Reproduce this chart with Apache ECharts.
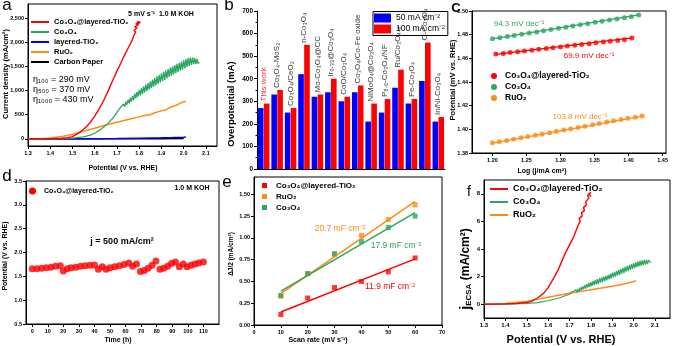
<!DOCTYPE html>
<html>
<head>
<meta charset="utf-8">
<script src="https://cdn.jsdelivr.net/npm/echarts@6/dist/echarts.min.js"></script>
<style>
  html, body { margin: 0; padding: 0; background: #fff; }
  #chart { width: 674px; height: 346px; }
</style>
</head>
<body>
<div id="chart"></div>
<script>
const FONT = '"Liberation Sans", Arial, sans-serif'
const RED = '#ff0000', GREEN = '#2aa862', BLUE = '#0000ff', ORANGE = '#ff8a14', BLACK = '#000000'

// ---- panel a : LSV curves (V vs RHE, mA/cm2)
const aRed = [[1.30,0],[1.35,1],[1.40,3],[1.45,10],[1.48,22],[1.50,45],[1.52,95],[1.54,160],[1.56,240],[1.58,340],[1.60,470],[1.62,620],[1.64,790],[1.66,990],[1.68,1200],[1.69,1300],[1.70,1410],[1.71,1500],[1.705,1540],[1.72,1600],[1.715,1640],[1.73,1700],[1.725,1730],[1.74,1790],[1.735,1820],[1.75,1880],[1.745,1910],[1.76,1970],[1.752,2000],[1.77,2060],[1.762,2090],[1.775,2140],[1.768,2170],[1.785,2220],[1.776,2250],[1.79,2300],[1.78,2330],[1.795,2360],[1.785,2390],[1.80,2410],[1.79,2430],[1.805,2420],[1.795,2390],[1.80,2380]]
const aGreen = [[1.30,0],[1.40,1],[1.45,4],[1.50,12],[1.55,40],[1.58,75],[1.60,115],[1.62,170],[1.64,240],[1.66,320],[1.68,420],[1.69,480],
  [1.700,550],[1.705,545],[1.710,615],[1.715,590],[1.720,670],[1.725,630],[1.730,720],[1.735,670],[1.740,770],[1.745,708],[1.750,810],[1.755,738],
  [1.760,850],[1.765,770],[1.770,890],[1.775,805],[1.780,935],[1.785,838],[1.790,975],[1.795,873],[1.800,1015],[1.805,903],[1.810,1050],[1.815,933],
  [1.820,1090],[1.825,965],[1.830,1125],[1.835,990],[1.840,1155],[1.845,1023],[1.850,1195],[1.855,1053],[1.860,1230],[1.865,1085],[1.870,1260],[1.875,1110],
  [1.880,1295],[1.885,1140],[1.890,1325],[1.895,1170],[1.900,1360],[1.905,1195],[1.910,1390],[1.915,1225],[1.920,1420],[1.925,1255],[1.930,1450],[1.935,1285],
  [1.940,1480],[1.945,1313],[1.950,1505],[1.955,1338],[1.960,1530],[1.965,1363],[1.970,1555],[1.975,1388],[1.980,1580],[1.985,1413],[1.990,1605],[1.995,1438],
  [2.000,1630],[2.005,1463],[2.010,1655],[2.015,1488],[2.020,1675],[2.025,1513],[2.030,1685],[2.035,1533],[2.040,1690],[2.045,1548],[2.050,1675],[2.055,1553],
  [2.060,1660],[2.065,1560],[2.070,1590]]
const aBlue = [[1.30,0],[1.50,1],[1.60,3],[1.70,7],[1.80,13],[1.90,20],[1.95,25],[2.00,32],[2.01,36]]
const aOrange = [[1.30,0],[1.35,3],[1.40,15],[1.45,45],[1.50,95],[1.55,155],[1.60,220],[1.65,285],[1.70,345],[1.75,400],[1.80,455],[1.83,490],[1.85,500],[1.87,540],[1.90,580],[1.92,600],[1.93,630],[1.95,670],[1.97,700],[1.98,730],[2.00,770],[2.01,775]]
const aBlack = [[1.30,-2],[1.60,-1],[1.80,1],[1.90,3],[2.00,5]]
const aXTicks = [1.3,1.4,1.5,1.6,1.7,1.8,1.9,2.0,2.1]
const aYTicks = [0,500,1000,1500,2000,2500]

// ---- panel b : overpotential comparison
const bCats = ['This work','Co₃O₄-MoS₂','Co₃O₄/CeO₂','n-Co₃O₄','Mo-Co₃O₄@CC','Ir₀.₃₃@Co₃O₄','CoO/Co₃O₄','Co₃O₄/Co-Fe oxide','NiMoO₄@Co₃O₄','P₈.₆-Co₃O₄/NF','Ru/Co₃O₄₋ₓ','Fe-Co₃O₄','O-Co₃O₄','In/Ni-Co₃O₄']
const b50 = [270,330,250,420,320,340,300,340,210,250,360,290,390,210]
const b100 = [290,350,270,550,330,400,320,370,290,310,440,310,560,230]

// ---- panel c : Tafel
const cRedX = [1.205,1.216,1.226,1.237,1.247,1.258,1.268,1.279,1.289,1.300,1.310,1.321,1.331,1.342,1.352,1.363,1.373,1.384,1.394,1.405]
const cRedY = [1.4636,1.4641,1.4649,1.4655,1.4662,1.4668,1.4676,1.4683,1.4689,1.4696,1.4704,1.4710,1.4717,1.4723,1.4731,1.4737,1.4745,1.4751,1.4758,1.4772]
const cGreenX = [1.200,1.211,1.222,1.232,1.243,1.254,1.265,1.275,1.286,1.297,1.308,1.318,1.329,1.340,1.351,1.361,1.372,1.383,1.394,1.404,1.415]
const cGreenY = [1.4766,1.4773,1.4785,1.4793,1.4804,1.4814,1.4823,1.4833,1.4843,1.4854,1.4863,1.4873,1.4884,1.4893,1.4904,1.4913,1.4923,1.4933,1.4943,1.4952,1.4966]
const cOrangeX = [1.200,1.210,1.221,1.231,1.242,1.252,1.263,1.273,1.284,1.294,1.305,1.315,1.326,1.336,1.347,1.357,1.368,1.378,1.389,1.399,1.410,1.420]
const cOrangeY = [1.3886,1.3895,1.3906,1.3917,1.3928,1.3939,1.3950,1.3961,1.3972,1.3983,1.3994,1.4005,1.4016,1.4027,1.4038,1.4050,1.4061,1.4072,1.4083,1.4094,1.4103,1.4112]
const cRedFit = [[1.205,1.4633],[1.405,1.4773]]
const cGreenFit = [[1.200,1.4764],[1.415,1.4967]]
const cOrangeFit = [[1.200,1.3884],[1.420,1.4112]]
const cXTicks = [1.20,1.25,1.30,1.35,1.40,1.45]
const cYTicks = [1.38,1.40,1.42,1.44,1.46,1.48,1.50]

// ---- panel d : stability
const dTime = [0,3,6,9,12,15,18,20,22.5,25,28,31,34,37,40,42.5,45,47.5,50,53,56,59,62,64.5,67,69.5,72,74.5,77,79.5,82,84.5,87,89.5,92,94.5,97,99.5,102,104.5,107,110]
const dPot = [1.66,1.66,1.67,1.68,1.69,1.71,1.72,1.61,1.66,1.68,1.69,1.71,1.72,1.73,1.74,1.65,1.70,1.65,1.68,1.70,1.72,1.75,1.78,1.71,1.76,1.60,1.62,1.67,1.73,1.82,1.65,1.67,1.71,1.77,1.80,1.70,1.76,1.70,1.73,1.76,1.78,1.80]
const dXTicks = [0,10,20,30,40,50,60,70,80,90,100,110]
const dYTicks = [0.5,1.0,1.5,2.0,2.5,3.0,3.5]

// ---- panel e : Cdl
const eRate = [10,20,30,40,50,60]
const eRed = [0.12,0.31,0.43,0.50,0.61,0.77]
const eOrange = [0.33,0.59,0.81,1.03,1.21,1.38]
const eGreen = [0.34,0.59,0.82,0.96,1.12,1.25]
const eRedFit = [[10,0.15],[60,0.76]]
const eOrangeFit = [[10,0.36],[60,1.42]]
const eGreenFit = [[10,0.39],[60,1.29]]
const eXTicks = [0,10,20,30,40,50,60,70]
const eYTicks = [0,0.25,0.5,0.75,1.0,1.25,1.5]

// ---- panel f : ECSA normalised LSV
const fRed = [[1.30,0],[1.40,0.02],[1.45,0.05],[1.50,0.12],[1.52,0.19],[1.55,0.45],[1.58,0.8],[1.60,1.2],[1.63,2.0],[1.65,2.6],[1.68,3.7],[1.70,4.3],[1.72,4.9],[1.73,5.3],[1.74,5.7],[1.735,5.8],[1.75,6.0],[1.745,6.2],[1.76,6.4],[1.755,6.6],[1.77,6.8],[1.765,7.0],[1.78,7.2],[1.775,7.4],[1.79,7.7],[1.785,7.9],[1.80,8.1],[1.79,8.0],[1.80,7.8]]
const fGreen = [[1.30,0],[1.40,0],[1.50,0.05],[1.55,0.12],[1.60,0.25],[1.65,0.45],[1.70,0.72],
  [1.71,0.90],[1.715,0.80],[1.72,0.94],[1.725,0.82],[1.73,1.05],[1.735,0.88],[1.74,1.10],[1.745,0.94],[1.75,1.22],[1.755,1.00],[1.76,1.28],[1.765,1.08],
  [1.77,1.38],[1.775,1.12],[1.78,1.45],[1.785,1.20],[1.79,1.54],[1.795,1.25],[1.80,1.60],[1.805,1.32],[1.81,1.68],[1.815,1.38],[1.82,1.75],[1.825,1.44],
  [1.83,1.82],[1.835,1.48],[1.84,1.88],[1.845,1.56],[1.85,1.94],[1.855,1.60],[1.86,2.00],[1.865,1.68],[1.87,2.06],[1.875,1.72],[1.88,2.13],[1.885,1.80],
  [1.89,2.20],[1.895,1.85],[1.90,2.28],[1.905,1.95],[1.91,2.35],[1.915,2.00],[1.92,2.42],[1.925,2.08],[1.93,2.49],[1.935,2.12],[1.94,2.56],[1.945,2.22],
  [1.95,2.63],[1.955,2.26],[1.96,2.70],[1.965,2.36],[1.97,2.77],[1.975,2.40],[1.98,2.84],[1.985,2.50],[1.99,2.91],[1.995,2.55],[2.00,2.98],[2.005,2.62],
  [2.01,3.04],[2.015,2.68],[2.02,3.10],[2.025,2.74],[2.03,3.15],[2.035,2.78],[2.04,3.18],[2.045,2.84],[2.05,3.22],[2.055,2.86],[2.06,3.22],[2.065,2.90],
  [2.07,3.20],[2.08,3.0]]
const fOrange = [[1.30,0],[1.35,0.01],[1.40,0.05],[1.45,0.12],[1.50,0.22],[1.55,0.35],[1.60,0.5],[1.65,0.65],[1.70,0.8],[1.75,0.92],[1.80,1.05],[1.85,1.18],[1.90,1.3],[1.95,1.45],[2.00,1.65],[2.01,1.7]]
const fXTicks = [1.3,1.4,1.5,1.6,1.7,1.8,1.9,2.0,2.1]
const fYTicks = [0,2,4,6,8]

const NAME_CT = 'Co₃O₄@layered-TiO₂', NAME_CO = 'Co₃O₄', NAME_RU = 'RuO₂'

function zip (xs, ys) { return xs.map((x, i) => [x, ys[i]]) }

function vAxis (gi, min, max, ticks, fmt, size) {
  return {
    type: 'value', gridIndex: gi, min: min, max: max,
    axisLine: { show: true, onZero: false, lineStyle: { color: '#000', width: 1 } },
    axisTick: { show: true, length: 3, customValues: ticks, lineStyle: { color: '#000', width: 1 } },
    axisLabel: { customValues: ticks, formatter: fmt, fontSize: size || 6, fontWeight: 'bold', color: '#000', margin: 4 },
    splitLine: { show: false }
  }
}

function grid (left, top, width, height, frame) {
  return { left: left, top: top, width: width, height: height, containLabel: false, outerBoundsMode: 'none',
    show: frame, borderColor: '#000', borderWidth: 1, backgroundColor: 'transparent' }
}

function line (name, data, color, width, idx) {
  return { name: name, type: 'line', xAxisIndex: idx, yAxisIndex: idx, data: data, symbol: 'none',
    lineStyle: { color: color, width: width }, itemStyle: { color: color } }
}

function dots (name, data, color, symbol, size, idx) {
  return { name: name, type: 'scatter', xAxisIndex: idx, yAxisIndex: idx, data: data, symbol: symbol,
    symbolSize: size, itemStyle: { color: color } }
}

function legItems (names, colors, icon) {
  return names.map((n, i) => ({ name: n, icon: icon, itemStyle: { color: colors[i], borderWidth: 0 } }))
}

function txt (text, x, y, size, o) {
  o = o || {}
  const al = o.align || 'center'
  return {
    type: 'text', x: x, y: y, rotation: o.rot ? Math.PI / 2 : 0, silent: true, z: 100,
    style: {
      text: text, fill: o.color || '#000',
      font: (o.bold ? 'bold ' : '') + size + 'px ' + FONT,
      align: al, verticalAlign: 'middle', textAlign: al, textVerticalAlign: 'middle',
      rich: o.rich
    }
  }
}

const f2 = v => v.toFixed(2)
const f1 = v => v.toFixed(1)

let myChart = echarts.init(document.getElementById('chart'))

let option = {
  animation: false,
  backgroundColor: '#fff',
  textStyle: { fontFamily: FONT },
  grid: [
    grid(28, 4, 189, 142, true),
    grid(257, 11, 188, 158, false),
    grid(472, 11, 194, 142, true),
    grid(26, 181, 193, 143, true),
    grid(254, 177, 188, 148, true),
    grid(484, 180, 186, 138, true)
  ],
  xAxis: [
    vAxis(0, 1.3, 2.15, aXTicks, f1, 5.5),
    { type: 'category', gridIndex: 1, data: bCats, axisTick: { show: false }, axisLabel: { show: false },
      axisLine: { lineStyle: { color: '#000', width: 1 } }, splitLine: { show: false } },
    vAxis(2, 1.17, 1.455, cXTicks, f2, 5.5),
    vAxis(3, -4, 120, dXTicks, null, 5.5),
    vAxis(4, 0, 70, eXTicks, null, 5.5),
    vAxis(5, 1.3, 2.17, fXTicks, f1, 6)
  ],
  yAxis: [
    vAxis(0, -150, 2800, aYTicks, null, 5.5),
    { type: 'value', gridIndex: 1, min: 0, max: 700, interval: 100,
      axisLine: { show: true, lineStyle: { color: '#000', width: 1 } },
      axisTick: { show: true, length: 3, lineStyle: { color: '#000' } },
      minorTick: { show: true, splitNumber: 2, length: 1.5, lineStyle: { color: '#000' } },
      axisLabel: { fontSize: 6.5, fontWeight: 'bold', color: '#000', margin: 4 },
      splitLine: { show: false } },
    vAxis(2, 1.38, 1.50, cYTicks, f2, 5.5),
    vAxis(3, 0.5, 3.5, dYTicks, f1, 5.5),
    vAxis(4, 0, 1.7, eYTicks, f2, 5.5),
    vAxis(5, -1, 9, fYTicks, null, 6)
  ],
  legend: [
    { left: 31, top: 17, orient: 'vertical', itemWidth: 18, itemHeight: 2, itemGap: 0, padding: 0, selectedMode: false,
      textStyle: { fontSize: 7.5, fontWeight: 'bold', color: '#000', lineHeight: 10 },
      data: legItems([NAME_CT, NAME_CO, 'layered-TiO₂', NAME_RU, 'Carbon Paper'], [RED, GREEN, BLUE, ORANGE, BLACK], 'rect') },
    { left: 373, top: 11.5, orient: 'vertical', itemWidth: 17, itemHeight: 9, itemGap: 0, padding: [1, 3, 1, 1], selectedMode: false,
      borderColor: '#000', borderWidth: 1, backgroundColor: '#fff',
      textStyle: { fontSize: 8.5, color: '#000', lineHeight: 11 },
      data: legItems(['50 mA cm⁻²', '100 mA cm⁻²'], [BLUE, RED], 'rect') },
    { left: 491, top: 70.5, orient: 'vertical', itemWidth: 6, itemHeight: 6, itemGap: 0, padding: 0, selectedMode: false,
      textStyle: { fontSize: 8.5, fontWeight: 'bold', color: '#000', lineHeight: 11, padding: [0, 0, 0, 3] },
      data: legItems([NAME_CT, NAME_CO, NAME_RU], [RED, GREEN, ORANGE], 'circle') },
    { left: 29, top: 186.5, orient: 'vertical', itemWidth: 7, itemHeight: 7, itemGap: 0, padding: 0, selectedMode: false,
      textStyle: { fontSize: 7, fontWeight: 'bold', color: '#000', lineHeight: 9, padding: [0, 0, 0, 3] },
      data: legItems([NAME_CT], [RED], 'circle') },
    { left: 262, top: 180, orient: 'vertical', itemWidth: 5, itemHeight: 5, itemGap: 0, padding: 0, selectedMode: false,
      textStyle: { fontSize: 8, fontWeight: 'bold', color: '#000', lineHeight: 11, padding: [0, 0, 0, 4] },
      data: legItems([NAME_CT, NAME_RU, NAME_CO], [RED, ORANGE, GREEN], 'rect') },
    { left: 490, top: 182.5, orient: 'vertical', itemWidth: 18, itemHeight: 2, itemGap: 0, padding: 0, selectedMode: false,
      textStyle: { fontSize: 9, fontWeight: 'bold', color: '#000', lineHeight: 13 },
      data: legItems([NAME_CT, NAME_CO, NAME_RU], [RED, GREEN, ORANGE], 'rect') }
  ],
  series: [
    // a
    line('Carbon Paper', aBlack, BLACK, 1.5, 0),
    line('layered-TiO₂', aBlue, BLUE, 1.5, 0),
    line(NAME_RU, aOrange, ORANGE, 1.5, 0),
    line(NAME_CO, aGreen, GREEN, 1.3, 0),
    line(NAME_CT, aRed, RED, 1.4, 0),
    // b
    { name: '50 mA cm⁻²', type: 'bar', xAxisIndex: 1, yAxisIndex: 1, data: b50, itemStyle: { color: BLUE },
      barGap: '6%', barCategoryGap: '14%' },
    { name: '100 mA cm⁻²', type: 'bar', xAxisIndex: 1, yAxisIndex: 1, data: b100, itemStyle: { color: RED } },
    { name: 'bar labels', type: 'scatter', xAxisIndex: 1, yAxisIndex: 1, symbolSize: 0.1,
      itemStyle: { color: 'transparent' }, z: 5,
      data: bCats.map((c, i) => ({ value: [c, Math.max(b50[i], b100[i])], label: { color: i === 0 ? RED : '#000' } })),
      label: { show: true, formatter: p => bCats[p.dataIndex], position: 'top', distance: 2, rotate: 90,
        align: 'left', verticalAlign: 'middle', fontSize: 8 } },
    // c
    line('fit-c1', cGreenFit, GREEN, 1.2, 2),
    line('fit-c2', cRedFit, RED, 1.2, 2),
    line('fit-c3', cOrangeFit, ORANGE, 1.2, 2),
    dots(NAME_CO, zip(cGreenX, cGreenY), GREEN, 'circle', 5, 2),
    dots(NAME_CT, zip(cRedX, cRedY), RED, 'circle', 5, 2),
    dots(NAME_RU, zip(cOrangeX, cOrangeY), ORANGE, 'circle', 5, 2),
    // d
    dots(NAME_CT, zip(dTime, dPot), RED, 'circle', 7, 3),
    // e
    line('fit-e1', eOrangeFit, ORANGE, 1.5, 4),
    line('fit-e2', eGreenFit, GREEN, 1.5, 4),
    line('fit-e3', eRedFit, RED, 1.5, 4),
    dots(NAME_RU, zip(eRate, eOrange), ORANGE, 'rect', 5, 4),
    dots(NAME_CO, zip(eRate, eGreen), GREEN, 'rect', 5, 4),
    dots(NAME_CT, zip(eRate, eRed), RED, 'rect', 5, 4),
    // f
    line(NAME_RU, fOrange, ORANGE, 1.5, 5),
    line(NAME_CO, fGreen, GREEN, 1.2, 5),
    line(NAME_CT, fRed, RED, 1.4, 5)
  ],
  graphic: [
    // panel letters
    txt('a', 7, 5.5, 17), txt('b', 229, 5, 17), txt('C', 456, 8, 13, { bold: true }),
    txt('d', 7, 176, 17), txt('e', 227, 182.5, 17), txt('f', 469, 192, 14),
    // a
    txt('5 mV s⁻¹  1.0 M KOH', 161, 14, 7, { bold: true }),
    txt('η₁₀₀ = 290 mV', 33, 80, 9, { align: 'left' }),
    txt('η₅₀₀ = 370 mV', 33, 90, 9, { align: 'left' }),
    txt('η₁₀₀₀ = 430 mV', 33, 100, 9, { align: 'left' }),
    txt('Current density (mA/cm²)', 6, 74, 7.5, { bold: true, rot: true }),
    txt('Potential (V vs. RHE)', 123, 168, 7, { bold: true }),
    // b
    txt('Overpotential (mA)', 231, 104, 9.5, { bold: true, rot: true }),
    // c
    txt('94.3 mV dec⁻¹', 519, 24, 8, { color: GREEN }),
    txt('69.9 mV dec⁻¹', 589, 56, 8, { color: RED }),
    txt('103.8 mV dec⁻¹', 580, 117, 8, { color: ORANGE }),
    txt('Potential (mV vs. RHE)', 453, 80, 7.5, { bold: true, rot: true }),
    txt('Log (j/mA cm²)', 542, 171, 7, { bold: true }),
    // d
    txt('1.0 M KOH', 192, 188, 7, { bold: true }),
    txt('j = 500 mA/cm²', 122, 242, 9, { bold: true }),
    txt('Potential (V vs. RHE)', 5, 256, 7, { bold: true, rot: true }),
    txt('Time (h)', 118, 340, 7, { bold: true }),
    // e
    txt('20.7 mF cm⁻²', 340, 229, 8.5, { color: ORANGE }),
    txt('17.9 mF cm⁻²', 396, 246, 8.5, { color: GREEN }),
    txt('11.9 mF cm⁻²', 390, 287, 8.5, { color: RED }),
    txt('ΔJ/2 (mA/cm²)', 231, 254, 6.5, { bold: true, rot: true }),
    txt('Scan rate (mV s⁻¹)', 318, 340, 7, { bold: true }),
    // f
    txt('{j|j}{s|ECSA}{t| (mA/cm²)}', 466, 269, 12, { bold: true, rot: true, rich: {
      j: { font: 'bold 14px ' + FONT, fill: '#000' },
      s: { font: 'bold 8px ' + FONT, fill: '#000', verticalAlign: 'bottom' },
      t: { font: 'bold 12px ' + FONT, fill: '#000' } } }),
    txt('Potential (V vs. RHE)', 561, 340, 11, { bold: true })
  ]
}

myChart.setOption(option)
</script>
</body>
</html>
